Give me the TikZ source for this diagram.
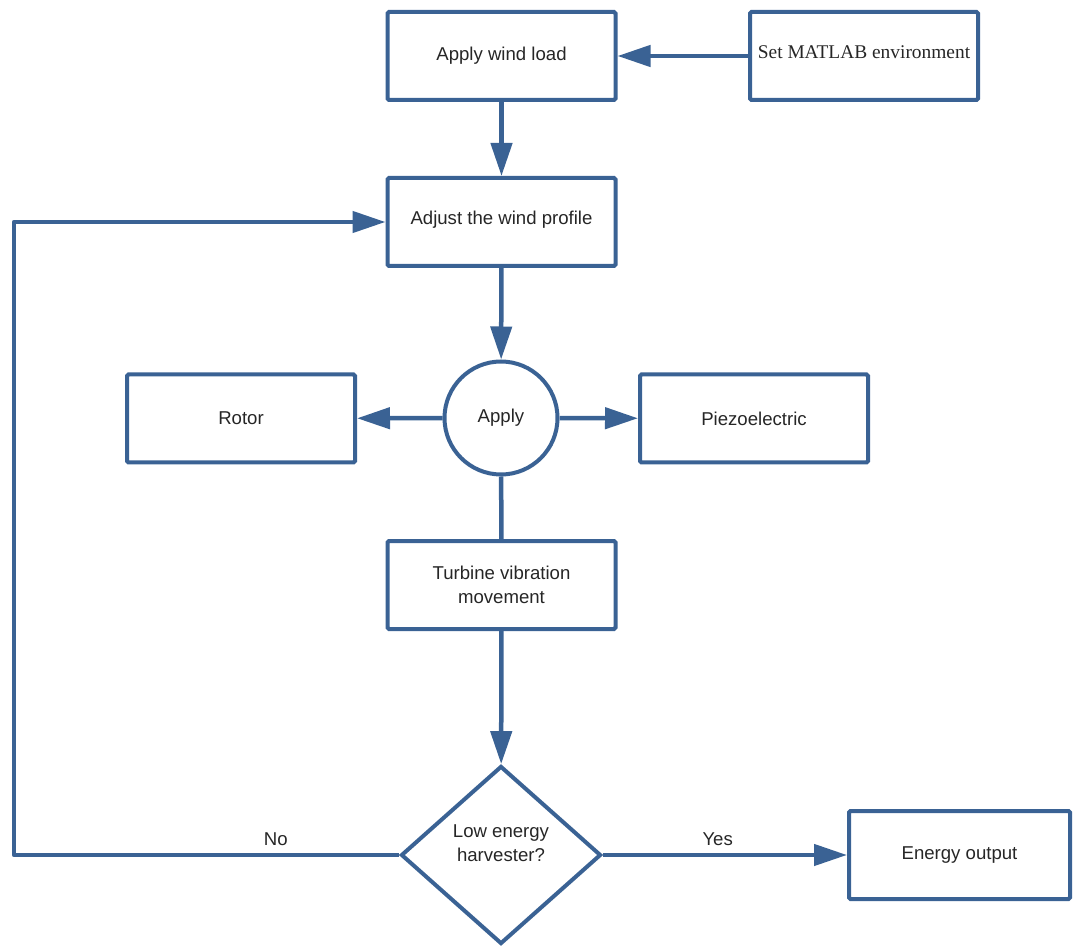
\documentclass[tikz,border=0pt]{standalone}
\usepackage{fontspec}
\setmainfont{Liberation Sans}
\newfontfamily\matlabfont{Liberation Serif}
\usetikzlibrary{arrows.meta,positioning,shapes.geometric}
\definecolor{flowblue}{RGB}{58,98,148}

\begin{document}
\begin{tikzpicture}[x=1pt,y=-1pt,>={Triangle[length=33pt,width=21pt]},
  every node/.style={font=\fontsize{18.6}{23.5}\selectfont,align=center,text=black!85},
  box/.style={draw=flowblue,line width=4pt,rounded corners=1.5pt,minimum width=228pt,minimum height=88pt},
  link/.style={flowblue,line width=4.5pt,line join=round}]
  \useasboundingbox (0,0) rectangle (1074,949);
  \node[box] (load) at (501.5,56) {Apply wind load};
  \node[box] (matlab) at (864,56) {};
  \node at (864,52) {\matlabfont\fontsize{19.4}{22}\selectfont Set MATLAB environment};
  \node[box] (profile) at (501.5,222) {};
  \node at (501.5,220) {Adjust the wind profile};
  \node[draw=flowblue,line width=4pt,circle,minimum size=113pt,inner sep=0pt] (apply) at (501,418) {Apply};
  \node[box] (rotor) at (241,418.5) {Rotor};
  \node[box] (piezo) at (754,418.5) {Piezoelectric};
  \node[box] (turbine) at (501.5,585) {Turbine vibration\\movement};
  \node[draw=flowblue,line width=4pt,diamond,minimum width=200pt,minimum height=178pt,inner sep=0pt] (harvest) at (501,855) {};
  \node at (501,843) {Low energy\\harvester?};
  \node[box,minimum width=221pt] (output) at (959.5,855) {Energy output};
  \coordinate (bend) at (14,855);
  \draw[link,->] (matlab) -- (load);
  \draw[link,->] (load) -- (profile);
  \draw[link,->] (profile) -- (apply);
  \draw[link,->] (apply) -- (rotor);
  \draw[link,->] (apply) -- (piezo);
  \draw[link] (apply) -- (turbine);
  \draw[link,->] (turbine) -- (harvest);
  \draw[link,->] (harvest.west) -- node[above,pos=0.32,yshift=4pt]{No} (bend) |- (profile.west);
  \draw[link,->] (harvest.east) -- node[above,pos=0.47,yshift=4pt]{Yes} (output);
\end{tikzpicture}
\end{document}
